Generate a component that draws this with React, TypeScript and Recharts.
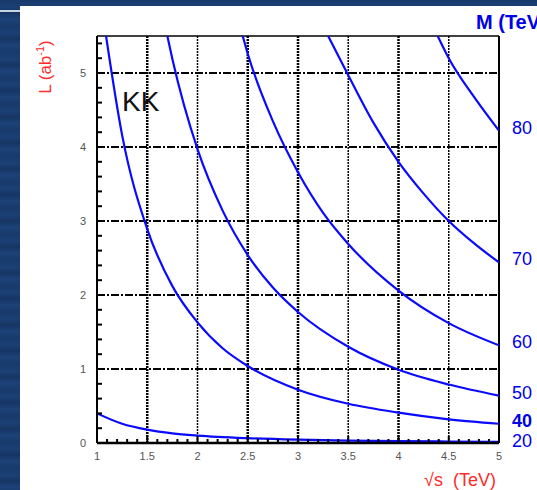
import React from 'react';
import { LineChart, Line, XAxis, YAxis, ReferenceLine } from 'recharts';

// Luminosity needed (ab^-1) versus collider energy sqrt(s) (TeV), one curve per KK mass scale M (TeV)
const MASSES = ['20', '40', '50', '60', '70', '80'];

const SQRT_S_20 = [1, 1.25, 1.5, 1.75, 2, 2.5, 3, 3.5, 4, 4.5, 5];
const LUMI_20 = [0.4, 0.26, 0.18, 0.13, 0.1, 0.065, 0.045, 0.033, 0.025, 0.02, 0.016];

const SQRT_S_40 = [1.09, 1.25, 1.5, 1.75, 2, 2.25, 2.5, 3, 3.5, 4, 4.5, 5];
const LUMI_40 = [5.5, 4.16, 2.89, 2.12, 1.63, 1.28, 1.04, 0.72, 0.53, 0.41, 0.32, 0.26];

const SQRT_S_50 = [1.7, 1.75, 2, 2.25, 2.5, 2.75, 3, 3.5, 4, 4.5, 5];
const LUMI_50 = [5.5, 5.19, 3.97, 3.14, 2.54, 2.1, 1.77, 1.3, 0.99, 0.79, 0.64];

const SQRT_S_60 = [2.45, 2.5, 2.75, 3, 3.25, 3.5, 4, 4.5, 5];
const LUMI_60 = [5.5, 5.26, 4.35, 3.66, 3.11, 2.69, 2.06, 1.62, 1.32];

const SQRT_S_70 = [3.3, 3.5, 3.75, 4, 4.25, 4.5, 4.75, 5];
const LUMI_70 = [5.5, 4.97, 4.33, 3.8, 3.37, 3.0, 2.7, 2.44];

const SQRT_S_80 = [4.39, 4.5, 4.75, 5];
const LUMI_80 = [5.5, 5.2, 4.68, 4.22];

// Axis ticks: labelled majors and unlabelled minors
const X_TICKS = Array.from({ length: 41 }, (_, i) => Math.round((1 + i * 0.1) * 10) / 10);
const X_LABELS = ['1', '1.5', '2', '2.5', '3', '3.5', '4', '4.5', '5'];
const Y_TICKS = Array.from({ length: 28 }, (_, i) => Math.round(i * 0.2 * 10) / 10);
const Y_LABELS = ['0', '1', '2', '3', '4', '5'];

const X_GRID = [1.5, 2, 2.5, 3, 3.5, 4, 4.5];
const X_GRID_HEAVY = [1.5, 2.5, 3, 4];
const Y_GRID = [1, 2, 3, 4, 5];

const toPoints = (xs: number[], ys: number[]) => xs.map((x, i) => ({ x, y: ys[i] }));

const SERIES = [
  { mass: MASSES[0], data: toPoints(SQRT_S_20, LUMI_20), bold: false, dy: 2 },
  { mass: MASSES[1], data: toPoints(SQRT_S_40, LUMI_40), bold: true, dy: 0 },
  { mass: MASSES[2], data: toPoints(SQRT_S_50, LUMI_50), bold: false, dy: 0 },
  { mass: MASSES[3], data: toPoints(SQRT_S_60, LUMI_60), bold: false, dy: 0 },
  { mass: MASSES[4], data: toPoints(SQRT_S_70, LUMI_70), bold: false, dy: 0 },
  { mass: MASSES[5], data: toPoints(SQRT_S_80, LUMI_80), bold: false, dy: 0 },
];

const BLUE = '#0a0aff';
const LABEL_BLUE = '#0000e6';
const RED = '#ff2a2a';
const FONT = '"Liberation Sans", Arial, sans-serif';

const isLabel = (v: number, labels: string[]) => labels.some((l) => Math.abs(parseFloat(l) - v) < 1e-6);

const XTick = (props: any) => {
  const { x, y, payload } = props;
  const v = payload.value as number;
  const major = isLabel(v, X_LABELS);
  return (
    <g>
      <line x1={x} x2={x} y1={y} y2={y - (major ? 7 : 4)} stroke="#000" strokeWidth={2} />
      {major && (
        <text x={x} y={y + 17} textAnchor="middle" fontSize={11} fill="#555" fontFamily={FONT}>
          {X_LABELS.find((l) => Math.abs(parseFloat(l) - v) < 1e-6)}
        </text>
      )}
    </g>
  );
};

const YTick = (props: any) => {
  const { x, y, payload } = props;
  const v = payload.value as number;
  const major = isLabel(v, Y_LABELS);
  return (
    <g>
      <line x1={x} x2={x + (major ? 7 : 5)} y1={y} y2={y} stroke="#000" strokeWidth={2} />
      {major && (
        <text x={x - 11} y={y + 4} textAnchor="end" fontSize={11} fill="#555" fontFamily={FONT}>
          {Y_LABELS.find((l) => Math.abs(parseFloat(l) - v) < 1e-6)}
        </text>
      )}
    </g>
  );
};

// Mass label placed just right of a curve's last point
const makeEndLabel = (mass: string, lastIndex: number, bold: boolean, dy: number) => (props: any) => {
  const { x, y, index } = props;
  if (index !== lastIndex) return null;
  return (
    <text
      x={x + 13}
      y={y + 3 + dy}
      fontSize={18}
      fontWeight={bold ? 'bold' : 'normal'}
      fill={LABEL_BLUE}
      fontFamily={FONT}
    >
      {mass}
    </text>
  );
};

const stripes =
  'repeating-linear-gradient(180deg, #183a6b 0px, #1b4075 7px, #163563 13px, #1c4279 19px, #183a6b 26px)';

export default function App() {
  return (
    <div style={{ position: 'absolute', left: 0, top: 0, width: 537, height: 490, background: stripes, overflow: 'hidden' }}>
      <div style={{ position: 'absolute', left: 0, top: 10, width: 20, height: 2, background: '#c8d4e6' }} />
      <div style={{ position: 'absolute', left: 20, top: 6, width: 517, height: 484, background: '#fff' }} />
      <div style={{ position: 'absolute', left: 0, top: 0 }}>
        <LineChart width={537} height={490} margin={{ top: 36, right: 38, bottom: 17, left: 20 }}>
          <XAxis
            type="number"
            dataKey="x"
            domain={[1, 5]}
            ticks={X_TICKS}
            interval={0}
            tick={<XTick />}
            tickSize={0}
            tickMargin={0}
            height={30}
            axisLine={{ stroke: '#000', strokeWidth: 2.5 }}
            allowDataOverflow
          />
          <YAxis
            type="number"
            dataKey="y"
            domain={[0, 5.5]}
            ticks={Y_TICKS}
            interval={0}
            tick={<YTick />}
            tickSize={0}
            tickMargin={0}
            width={77}
            axisLine={{ stroke: '#000', strokeWidth: 2 }}
            allowDataOverflow
          />
          {Y_GRID.map((g) => (
            <ReferenceLine key={'h' + g} y={g} stroke="#000" strokeWidth={2} strokeDasharray="8 2 2 2" />
          ))}
          {X_GRID.map((g) => (
            <ReferenceLine
              key={'v' + g}
              x={g}
              stroke="#000"
              strokeWidth={X_GRID_HEAVY.includes(g) ? 2.5 : 1.5}
              strokeDasharray="2 1"
            />
          ))}
          <ReferenceLine y={5.5} stroke="#000" strokeWidth={1.5} />
          <ReferenceLine x={5} stroke="#000" strokeWidth={2} />
          {SERIES.map((s) => (
            <Line
              key={s.mass}
              data={s.data}
              dataKey="y"
              type="monotone"
              stroke={BLUE}
              strokeWidth={2.2}
              dot={false}
              isAnimationActive={false}
              label={makeEndLabel(s.mass, s.data.length - 1, s.bold, s.dy)}
            />
          ))}
        </LineChart>
      </div>
      <svg width={537} height={490} style={{ position: 'absolute', left: 0, top: 0, pointerEvents: 'none' }}>
        <text x={122} y={111} fontSize={28} fill="#111" fontFamily={FONT}>
          KK
        </text>
        <text
          x={51}
          y={67}
          transform="rotate(-90 51 67)"
          textAnchor="middle"
          fontSize={17}
          fill={RED}
          fontFamily={FONT}
        >
          L (ab<tspan dy={-7} fontSize={11}>-1</tspan>
          <tspan dy={7}>)</tspan>
        </text>
        <text x={424} y={486} fontSize={18} fill={RED} fontFamily={FONT} xmlSpace="preserve">
          √s  (TeV)
        </text>
        <text x={476} y={29} fontSize={20} fontWeight="bold" fill={LABEL_BLUE} fontFamily={FONT}>
          M (TeV)
        </text>
      </svg>
    </div>
  );
}
